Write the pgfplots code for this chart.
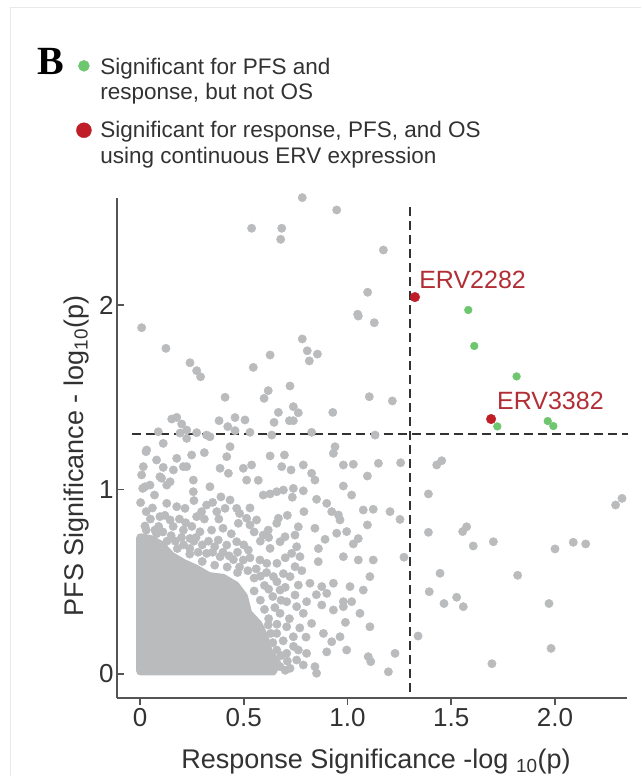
\documentclass[border=0pt]{standalone}
\usepackage{pgfplots}
\pgfplotsset{compat=1.18}
\usepackage{fontspec}
\setmainfont{Liberation Sans}
\newfontfamily\serifB{Liberation Serif}
\definecolor{ptgray}{RGB}{186,187,189}
\definecolor{ptgreen}{RGB}{110,198,110}
\definecolor{ptred}{RGB}{192,30,38}
\definecolor{lblred}{RGB}{178,46,54}
\definecolor{axgray}{RGB}{85,85,85}
\definecolor{txtgray}{RGB}{50,50,50}
\begin{document}
\begin{tikzpicture}
\path[use as bounding box] (0pt,0pt) rectangle (641pt,776pt);
\draw[black!9, line width=1pt] (10pt,0pt) -- (10pt,768pt) -- (641pt,768pt);
\begin{axis}[
  at={(117pt,78pt)}, anchor=south west,
  scale only axis, width=510pt, height=500pt,
  xmin=-0.1108, xmax=2.347, ymin=-0.130, ymax=2.580,
  axis x line=bottom, axis y line=left,
  axis line style={-, axgray, line width=1.6pt},
  clip=false,
  xtick={0,0.5,1,1.5,2}, xticklabels={0,0.5,1.0,1.5,2.0},
  ytick={0,1,2}, yticklabels={0,1,2},
  tick align=outside, major tick length=7pt,
  tick style={axgray, line width=1.6pt},
  ytick style={xshift=7pt},
  tick label style={font=\fontsize{26}{30}\selectfont, text=txtgray},
  yticklabel style={xshift=7pt},
  legend cell align=left,
  legend style={draw=none, fill=none, at={(axis description cs:-0.082,1.2844)}, anchor=north west,
    font=\fontsize{22.5}{26}\selectfont, text=txtgray, nodes={inner sep=0pt},
    row sep=6pt, column sep=9pt, inner sep=0pt},
]
\addlegendimage{only marks, mark=*, mark size=5.5pt, color=ptgreen}
\addlegendentry{\strut Significant for PFS and}
\addlegendimage{empty legend}
\addlegendentry{\strut response, but not OS}
\addlegendimage{only marks, mark=*, mark size=7.5pt, color=ptred, yshift=-7pt}
\addlegendentry{\rule{0pt}{30.2pt}\strut Significant for response, PFS, and OS}
\addlegendimage{empty legend}
\addlegendentry{\strut using continuous ERV expression}

% dense core of the gray cloud
\addplot[forget plot, fill=ptgray, draw=ptgray, line width=8.4pt, line join=round] coordinates {
(0.002,0.015) (0.64,0.015) (0.66,0.06) (0.62,0.12) (0.60,0.20) (0.57,0.27) (0.52,0.33)
(0.50,0.42) (0.46,0.48) (0.40,0.52) (0.33,0.53) (0.27,0.57) (0.21,0.60) (0.15,0.64)
(0.10,0.70) (0.05,0.73) (0.002,0.74)} -- cycle;

% scattered gray points
\addplot[forget plot, only marks, mark=*, mark size=4.2pt, color=ptgray] table {
x y
0.782 2.582
0.948 2.515
0.538 2.416
0.683 2.416
0.678 2.356
1.173 2.298
0.008 1.877
1.097 2.069
1.049 1.950
1.052 1.940
1.129 1.904
0.125 1.765
0.782 1.816
0.806 1.752
0.855 1.734
0.816 1.697
0.627 1.729
0.546 1.662
0.241 1.687
0.273 1.644
0.292 1.611
0.410 1.500
0.618 1.536
0.598 1.494
0.723 1.561
0.739 1.449
0.763 1.416
0.667 1.418
0.646 1.364
0.720 1.373
0.739 1.373
0.929 1.418
1.105 1.503
1.216 1.480
0.153 1.382
0.177 1.391
0.201 1.355
0.381 1.373
0.423 1.341
0.458 1.390
0.506 1.377
0.088 1.313
0.273 1.308
0.321 1.295
0.458 1.319
0.530 1.310
0.635 1.295
0.827 1.310
1.133 1.295
0.225 1.322
0.193 1.306
0.337 1.286
0.225 1.277
0.032 1.214
0.112 1.250
0.177 1.169
0.249 1.187
0.225 1.124
0.112 1.120
0.096 1.069
0.257 1.051
0.008 1.079
0.013 1.006
0.048 1.024
0.129 1.024
0.003 0.929
0.029 1.205
0.016 1.124
0.024 1.015
0.104 1.061
0.161 1.106
0.209 1.124
0.145 1.042
0.257 0.988
0.337 1.015
0.386 1.115
0.434 1.232
0.418 1.178
0.426 1.088
0.498 1.115
0.538 1.133
0.514 1.051
0.627 1.182
0.696 1.187
0.683 1.124
0.728 1.106
0.787 1.133
0.827 1.088
0.843 1.051
0.940 1.232
0.932 1.196
0.980 1.133
1.028 1.137
1.149 1.142
1.256 1.145
1.096 1.073
0.980 1.019
1.020 0.970
0.594 0.970
0.627 0.976
0.659 0.988
0.691 0.997
0.739 1.006
0.787 0.993
0.734 0.958
0.851 0.947
0.900 0.925
0.924 0.880
0.956 0.862
1.076 0.889
1.124 0.893
1.205 0.880
1.253 0.838
1.096 0.808
0.964 0.835
0.843 0.790
0.948 0.763
0.996 0.772
1.052 0.734
1.028 0.705
0.892 0.730
0.980 0.636
1.052 0.618
1.124 0.618
1.272 0.633
0.859 0.609
1.108 0.528
0.819 0.492
0.876 0.474
0.932 0.492
0.900 0.437
1.012 0.474
1.076 0.455
0.980 0.392
1.020 0.392
0.876 0.374
0.932 0.347
0.980 0.365
1.060 0.329
1.108 0.256
0.827 0.274
0.884 0.220
0.924 0.175
0.964 0.202
0.996 0.130
1.100 0.094
1.112 0.067
1.229 0.112
1.197 0.012
0.787 0.049
0.843 0.040
0.851 0.004
0.803 0.112
0.763 0.130
0.755 0.076
0.723 0.031
0.675 0.040
0.707 0.112
0.659 0.130
0.787 0.329
0.755 0.365
0.803 0.392
0.747 0.428
0.763 0.482
0.723 0.528
0.747 0.582
0.771 0.636
0.731 0.654
0.755 0.690
0.763 0.798
0.747 0.753
0.699 0.744
0.675 0.717
0.627 0.681
0.659 0.817
0.618 0.780
0.594 0.753
0.562 0.835
0.530 0.808
0.514 0.844
0.667 0.844
0.474 0.817
0.466 0.898
0.434 0.943
0.410 0.898
0.370 0.880
0.321 0.916
0.297 0.880
0.273 0.853
0.217 0.898
0.177 0.907
0.129 0.925
0.096 0.853
0.145 0.835
0.024 0.802
0.072 0.780
0.209 0.780
0.241 0.735
0.289 0.771
0.345 0.780
0.377 0.726
0.418 0.699
0.466 0.717
0.522 0.672
0.498 0.618
0.578 0.618
0.321 0.654
0.386 0.636
0.611 0.600
0.643 0.528
0.691 0.544
0.675 0.455
0.707 0.392
0.675 0.329
0.707 0.256
0.739 0.202
0.618 0.266
0.659 0.220
0.55 0.45
0.58 0.40
0.60 0.35
0.62 0.30
0.55 0.52
0.60 0.48
0.64 0.42
0.65 0.36
0.63 0.22
0.70 0.02
0.68 0.10
0.64 0.17
0.47 0.55
0.42 0.58
0.36 0.59
0.30 0.61
0.24 0.65
0.18 0.68
0.13 0.72
0.08 0.76
0.03 0.78
0.45 0.62
0.26 0.72
0.20 0.74
0.35 0.66
0.03 0.88
0.05 0.84
0.06 0.90
0.09 0.80
0.11 0.77
0.15 0.75
0.12 0.86
0.16 0.80
0.19 0.84
0.22 0.82
0.25 0.80
0.27 0.74
0.30 0.70
0.33 0.72
0.28 0.66
0.24 0.68
0.21 0.70
0.17 0.72
0.36 0.69
0.40 0.66
0.43 0.64
0.47 0.66
0.50 0.70
0.53 0.63
0.48 0.58
0.52 0.56
0.56 0.57
0.58 0.53
0.61 0.55
0.62 0.46
0.66 0.50
0.68 0.40
0.66 0.27
0.69 0.18
0.71 0.07
0.74 0.15
0.72 0.30
0.70 0.47
0.78 0.56
0.80 0.20
0.77 0.25
0.40 0.79
0.44 0.76
0.38 0.84
0.31 0.84
0.35 0.93
0.26 0.94
0.07 0.97
0.39 0.96
0.48 0.87
0.55 0.77
0.58 0.72
0.62 0.74
0.70 0.63
0.66 0.60
0.53 0.90
0.08 1.16
0.31 1.20
0.57 1.05
0.79 0.88
0.71 0.86
0.86 0.68
0.85 0.43
0.90 0.12
0.99 0.28
1.430 1.133
1.454 1.156
1.390 0.976
1.390 0.768
1.555 0.772
1.574 0.798
1.606 0.694
1.703 0.717
1.446 0.546
1.820 0.535
2.000 0.678
2.088 0.714
2.148 0.705
2.292 0.916
2.323 0.952
1.394 0.446
1.465 0.382
1.526 0.416
1.558 0.365
1.971 0.382
1.340 0.206
1.981 0.139
1.696 0.056
};

% threshold lines
\addplot[forget plot, txtgray, line width=2.2pt, dash pattern=on 9pt off 5pt] coordinates {(1.3,-0.098) (1.3,2.54)};
\addplot[forget plot, txtgray, line width=2.2pt, dash pattern=on 9pt off 5pt] coordinates {(-0.04,1.3) (2.35,1.3)};

% significant for PFS and response
\addplot[forget plot, only marks, mark=*, mark size=3.9pt, color=ptgreen] table {
x y
1.582 1.973
1.611 1.778
1.815 1.613
1.722 1.342
1.965 1.371
1.992 1.344
};
% significant for all three
\addplot[forget plot, only marks, mark=*, mark size=4.8pt, color=ptred] table {
x y
1.325 2.043
1.692 1.382
};

\node[anchor=base west, inner sep=0pt, text=lblred, font=\fontsize{25}{30}\selectfont] at (axis cs:1.345,2.087) {ERV2282};
\node[anchor=base west, inner sep=0pt, text=lblred, font=\fontsize{25}{30}\selectfont] at (axis cs:1.720,1.431) {ERV3382};
\end{axis}
\node[anchor=base west, inner sep=0pt, font=\fontsize{40}{44}\selectfont] at (37pt,701pt) {\serifB\bfseries B};
\node[anchor=base, inner sep=0pt, text=txtgray, font=\fontsize{27}{31}\selectfont] at (376pt,8pt) {Response Significance -log \textsubscript{10}(p)};
\node[anchor=base, rotate=90, inner sep=0pt, text=txtgray, font=\fontsize{27}{31}\selectfont] at (83pt,320pt) {PFS Significance - log\textsubscript{10}(p)};
\end{tikzpicture}
\end{document}
